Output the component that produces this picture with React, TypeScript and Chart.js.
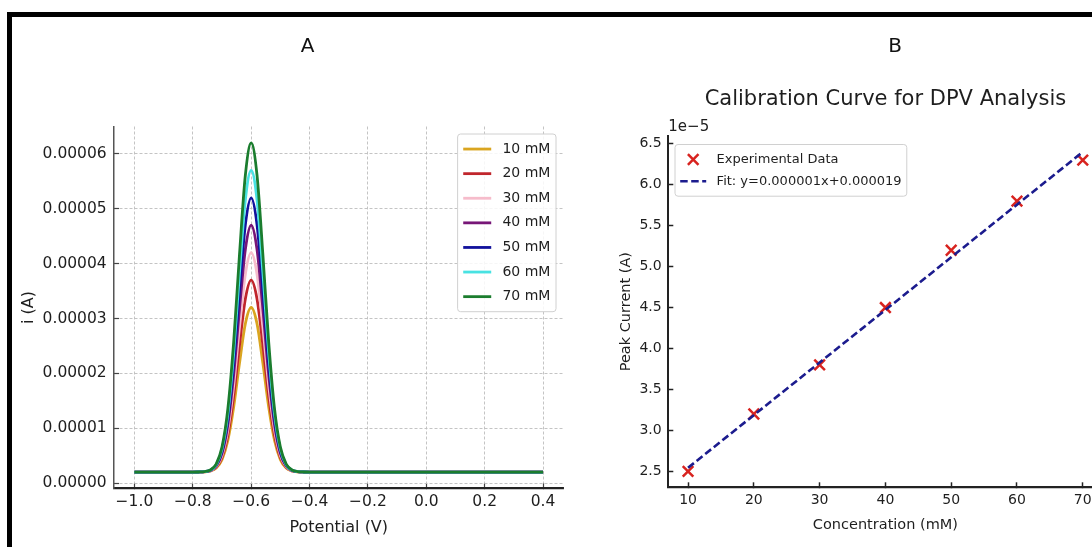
import React, { useEffect, useRef } from 'react';
import { Chart, registerables } from 'chart.js';

Chart.register(...registerables);

// ---------- Panel A data (current in µA) ----------
const potentialV = [-1.0, -0.8, -0.78, -0.76, -0.74, -0.72, -0.7, -0.68, -0.66, -0.64, -0.62, -0.6, -0.58, -0.56, -0.54, -0.52, -0.5, -0.48, -0.46, -0.44, -0.42, -0.4, 0.4];
const current10mM = [2.0, 2.0, 2.01, 2.04, 2.19, 2.73, 4.27, 7.75, 13.84, 21.85, 29.05, 32.0, 29.05, 21.85, 13.84, 7.75, 4.27, 2.73, 2.19, 2.04, 2.01, 2.0, 2.0];
const current20mM = [2.0, 2.0, 2.01, 2.05, 2.22, 2.85, 4.65, 8.7, 15.81, 25.15, 33.56, 37.0, 33.56, 25.15, 15.81, 8.7, 4.65, 2.85, 2.22, 2.05, 2.01, 2.0, 2.0];
const current30mM = [2.0, 2.0, 2.01, 2.05, 2.25, 2.97, 5.02, 9.66, 17.78, 28.46, 38.07, 42.0, 38.07, 28.46, 17.78, 9.66, 5.02, 2.97, 2.25, 2.05, 2.01, 2.0, 2.0];
const current40mM = [2.0, 2.0, 2.01, 2.06, 2.29, 3.09, 5.4, 10.62, 19.76, 31.77, 42.58, 47.0, 42.58, 31.77, 19.76, 10.62, 5.4, 3.09, 2.29, 2.06, 2.01, 2.0, 2.0];
const current50mM = [2.0, 2.0, 2.01, 2.07, 2.32, 3.22, 5.78, 11.58, 21.73, 35.08, 47.09, 52.0, 47.09, 35.08, 21.73, 11.58, 5.78, 3.22, 2.32, 2.07, 2.01, 2.0, 2.0];
const current60mM = [2.0, 2.0, 2.01, 2.07, 2.35, 3.34, 6.16, 12.53, 23.7, 38.38, 51.6, 57.0, 51.6, 38.38, 23.7, 12.53, 6.16, 3.34, 2.35, 2.07, 2.01, 2.0, 2.0];
const current70mM = [2.0, 2.0, 2.01, 2.08, 2.38, 3.46, 6.54, 13.49, 25.68, 41.69, 56.11, 62.0, 56.11, 41.69, 25.68, 13.49, 6.54, 3.46, 2.38, 2.08, 2.01, 2.0, 2.0];
const seriesLabelsA = ['10 mM', '20 mM', '30 mM', '40 mM', '50 mM', '60 mM', '70 mM'];
const seriesColorsA = ['#daa520', '#c0262c', '#f6bccb', '#771677', '#12129c', '#48e2e2', '#1b7d2e'];
const xTicksA = [-1.0, -0.8, -0.6, -0.4, -0.2, 0.0, 0.2, 0.4];
const yTicksA = [0, 0.00001, 0.00002, 0.00003, 0.00004, 0.00005, 0.00006];

// ---------- Panel B data ----------
const concentrationMM = [10, 20, 30, 40, 50, 60, 70];
const peakCurrentA = [2.5e-5, 3.2e-5, 3.8e-5, 4.5e-5, 5.2e-5, 5.8e-5, 6.3e-5];
const fitCurrentA = [2.543e-5, 3.186e-5, 3.829e-5, 4.471e-5, 5.114e-5, 5.757e-5, 6.4e-5];
const xTicksB = [10, 20, 30, 40, 50, 60, 70];
const yTicksB = [2.5e-5, 3.0e-5, 3.5e-5, 4.0e-5, 4.5e-5, 5.0e-5, 5.5e-5, 6.0e-5, 6.5e-5];

const FONT = "'DejaVu Sans', sans-serif";
const INK = '#1e1e1e';

const boxLegend = {
  id: 'boxLegend',
  afterDraw(chart: any, _args: any, opts: any) {
    if (!opts || !opts.display) return;
    const { ctx, chartArea } = chart;
    const items = chart.data.datasets.map((ds: any) => ({
      label: ds.label,
      color: ds.borderColor,
      width: ds.borderWidth || 2,
      dash: ds.borderDash || [],
      marker: ds.showLine === false,
      radius: ds.pointRadius || 6,
    }));
    ctx.save();
    ctx.font = `${opts.fontSize}px ${FONT}`;
    const textW = Math.max(...items.map((it: any) => ctx.measureText(it.label).width));
    const w = opts.padX * 2 + opts.handleLen + opts.handlePad + textW;
    const h = opts.padY * 2 + items.length * opts.rowH;
    const left = opts.corner === 'tr' ? chartArea.right - opts.offsetX - w : chartArea.left + opts.offsetX;
    const top = chartArea.top + opts.offsetY;
    ctx.beginPath();
    if (ctx.roundRect) ctx.roundRect(left, top, w, h, 3);
    else ctx.rect(left, top, w, h);
    ctx.fillStyle = 'rgba(255,255,255,0.85)';
    ctx.fill();
    ctx.lineWidth = 1;
    ctx.strokeStyle = '#d0d0d0';
    ctx.stroke();
    items.forEach((it: any, i: number) => {
      const y = top + opts.padY + opts.rowH * (i + 0.5);
      const x0 = left + opts.padX;
      const x1 = x0 + opts.handleLen;
      ctx.strokeStyle = it.color;
      if (it.marker) {
        const c = (x0 + x1) / 2;
        const r = it.radius * Math.SQRT1_2;
        ctx.lineWidth = 2.5;
        ctx.setLineDash([]);
        ctx.beginPath();
        ctx.moveTo(c - r, y - r);
        ctx.lineTo(c + r, y + r);
        ctx.moveTo(c - r, y + r);
        ctx.lineTo(c + r, y - r);
        ctx.stroke();
      } else {
        ctx.lineWidth = it.width;
        ctx.setLineDash(it.dash);
        ctx.beginPath();
        ctx.moveTo(x0, y);
        ctx.lineTo(x1, y);
        ctx.stroke();
        ctx.setLineDash([]);
      }
      ctx.fillStyle = INK;
      ctx.textAlign = 'left';
      ctx.textBaseline = 'middle';
      ctx.fillText(it.label, x1 + opts.handlePad, y);
    });
    ctx.restore();
  },
};

const offsetText = {
  id: 'offsetText',
  afterDraw(chart: any, _args: any, opts: any) {
    if (!opts || !opts.text) return;
    const { ctx, chartArea } = chart;
    ctx.save();
    ctx.font = `${opts.fontSize}px ${FONT}`;
    ctx.fillStyle = INK;
    ctx.textAlign = 'left';
    ctx.textBaseline = 'middle';
    ctx.fillText(opts.text, chartArea.left, chartArea.top - opts.dy);
    ctx.restore();
  },
};

const minus = (s: string) => s.replace('-', '\u2212');

export default function App() {
  const refA = useRef<HTMLCanvasElement>(null);
  const refB = useRef<HTMLCanvasElement>(null);

  useEffect(() => {
    Chart.defaults.font.family = FONT;
    Chart.defaults.color = INK;

    const seriesA = [current10mM, current20mM, current30mM, current40mM, current50mM, current60mM, current70mM];

    const chartA = new Chart(refA.current as HTMLCanvasElement, {
      type: 'line',
      data: {
        datasets: seriesA.map((vals, i) => ({
          label: seriesLabelsA[i],
          data: potentialV.map((x, j) => ({ x, y: vals[j] * 1e-6 })),
          borderColor: seriesColorsA[i],
          backgroundColor: seriesColorsA[i],
          borderWidth: 2.8,
          pointRadius: 0,
          cubicInterpolationMode: 'monotone',
          fill: false,
          order: seriesA.length - i,
        })),
      },
      options: {
        animation: false,
        responsive: false,
        devicePixelRatio: 1,
        layout: { padding: { left: 0, right: 16.5, top: 126.5, bottom: 0 } },
        plugins: {
          legend: { display: false },
          tooltip: { enabled: false },
          boxLegend: {
            display: true, corner: 'tr', offsetX: 7.5, offsetY: 7.5, fontSize: 14,
            padX: 5.6, padY: 2.75, rowH: 24.6, handleLen: 28, handlePad: 11.2,
          },
        },
        scales: {
          x: {
            type: 'linear',
            min: -1.07,
            max: 0.47,
            afterFit: (s: any) => { s.height = 58.5; },
            afterBuildTicks: (s: any) => { s.ticks = xTicksA.map((v) => ({ value: v })); },
            ticks: {
              autoSkip: false, maxRotation: 0, padding: 8.9, color: INK,
              font: { size: 15.5 },
              callback: (v: any) => minus(Number(v).toFixed(1)),
            },
            grid: {
              color: '#bdbdbd', lineWidth: 0.9, borderDash: [3, 2],
              tickLength: -5, tickColor: '#444', tickWidth: 1.2, tickBorderDash: [],
            },
            border: { color: '#222', width: 2.2, dash: [3, 2] },
            title: { display: true, text: 'Potential (V)', font: { size: 16 }, color: INK, padding: { top: 0, bottom: 9.1 } },
          },
          y: {
            type: 'linear',
            min: -0.000001,
            max: 0.000065,
            afterFit: (s: any) => { s.width = 114; },
            afterBuildTicks: (s: any) => { s.ticks = yTicksA.map((v) => ({ value: v })); },
            ticks: {
              autoSkip: false, padding: 12.3, color: INK,
              font: { size: 15.5 },
              callback: (v: any) => Number(v).toFixed(5),
            },
            grid: {
              color: '#bdbdbd', lineWidth: 0.9, borderDash: [3, 2],
              tickLength: -5, tickColor: '#444', tickWidth: 1.2, tickBorderDash: [],
            },
            border: { color: '#555', width: 1.5, dash: [3, 2] },
            title: { display: true, text: 'i (A)', font: { size: 16 }, color: INK, padding: { top: 19.4, bottom: 0 } },
          },
        },
      } as any,
      plugins: [boxLegend as any],
    });

    const chartB = new Chart(refB.current as HTMLCanvasElement, {
      type: 'line',
      data: {
        datasets: [
          {
            label: 'Experimental Data',
            data: concentrationMM.map((x, j) => ({ x, y: peakCurrentA[j] })),
            showLine: false,
            pointStyle: 'crossRot',
            pointRadius: 7.5,
            pointBorderWidth: 2.5,
            borderColor: '#d8231f',
            backgroundColor: '#d8231f',
            pointBorderColor: '#d8231f',
            order: 1,
          },
          {
            label: 'Fit: y=0.000001x+0.000019',
            data: concentrationMM.map((x, j) => ({ x, y: fitCurrentA[j] })),
            borderColor: '#1c1c8e',
            backgroundColor: '#1c1c8e',
            borderWidth: 2.6,
            borderDash: [7.5, 3.5],
            pointRadius: 0,
            tension: 0,
            fill: false,
            order: 0,
          },
        ],
      },
      options: {
        animation: false,
        responsive: false,
        devicePixelRatio: 1,
        layout: { padding: { left: 0, right: 97.5, top: 0, bottom: 0 } },
        plugins: {
          legend: { display: false },
          tooltip: { enabled: false },
          title: {
            display: true,
            text: 'Calibration Curve for DPV Analysis',
            fullSize: false,
            color: INK,
            font: { size: 21, weight: 'normal' },
            padding: { top: 87.4, bottom: 23.4 },
          },
          boxLegend: {
            display: true, corner: 'tl', offsetX: 6.7, offsetY: 8.5, fontSize: 13,
            padX: 5.2, padY: 4.15, rowH: 21.7, handleLen: 26, handlePad: 10.4,
          },
          offsetText: { text: '1e\u22125', fontSize: 15, dy: 9 },
        },
        scales: {
          x: {
            type: 'linear',
            min: 7,
            max: 73,
            afterFit: (s: any) => { s.height = 59.7; },
            afterBuildTicks: (s: any) => { s.ticks = xTicksB.map((v) => ({ value: v })); },
            ticks: {
              autoSkip: false, maxRotation: 0, padding: 10, color: INK,
              font: { size: 14 },
              callback: (v: any) => String(v),
            },
            grid: { drawOnChartArea: false, tickLength: -5, tickColor: '#222', tickWidth: 1.5 },
            border: { color: '#222', width: 2.2 },
            title: { display: true, text: 'Concentration (mM)', font: { size: 14.5 }, color: INK, padding: { top: 0, bottom: 13.3 } },
          },
          y: {
            type: 'linear',
            min: 2.305e-5,
            max: 6.595e-5,
            afterFit: (s: any) => { s.width = 88.3; },
            afterBuildTicks: (s: any) => { s.ticks = yTicksB.map((v) => ({ value: v })); },
            ticks: {
              autoSkip: false, padding: 11.6, color: INK,
              font: { size: 14 },
              callback: (v: any) => (Number(v) * 1e5).toFixed(1),
            },
            grid: { drawOnChartArea: false, tickLength: -5, tickColor: '#222', tickWidth: 1.5 },
            border: { color: '#222', width: 2 },
            title: { display: true, text: 'Peak Current (A)', font: { size: 14.5 }, color: INK, padding: { top: 37.1, bottom: 0 } },
          },
        },
      } as any,
      plugins: [boxLegend as any, offsetText as any],
    });

    return () => {
      chartA.destroy();
      chartB.destroy();
    };
  }, []);

  const letter: React.CSSProperties = {
    position: 'absolute',
    top: 45,
    transform: 'translate(-50%, -50%)',
    fontFamily: FONT,
    fontSize: 20,
    lineHeight: 1,
    color: '#111',
  };

  return (
    <div style={{ position: 'fixed', left: 0, top: 0, width: 1092, height: 547, overflow: 'hidden', background: '#fff' }}>
      <canvas ref={refA} width={580} height={547} style={{ position: 'absolute', left: 0, top: 0 }} />
      <canvas ref={refB} width={620} height={547} style={{ position: 'absolute', left: 580, top: 0 }} />
      <div style={{ ...letter, left: 307.7 }}>A</div>
      <div style={{ ...letter, left: 895 }}>B</div>
      <div style={{ position: 'absolute', left: 7, top: 12, width: 2000, height: 2000, border: '5px solid #000' }} />
    </div>
  );
}
